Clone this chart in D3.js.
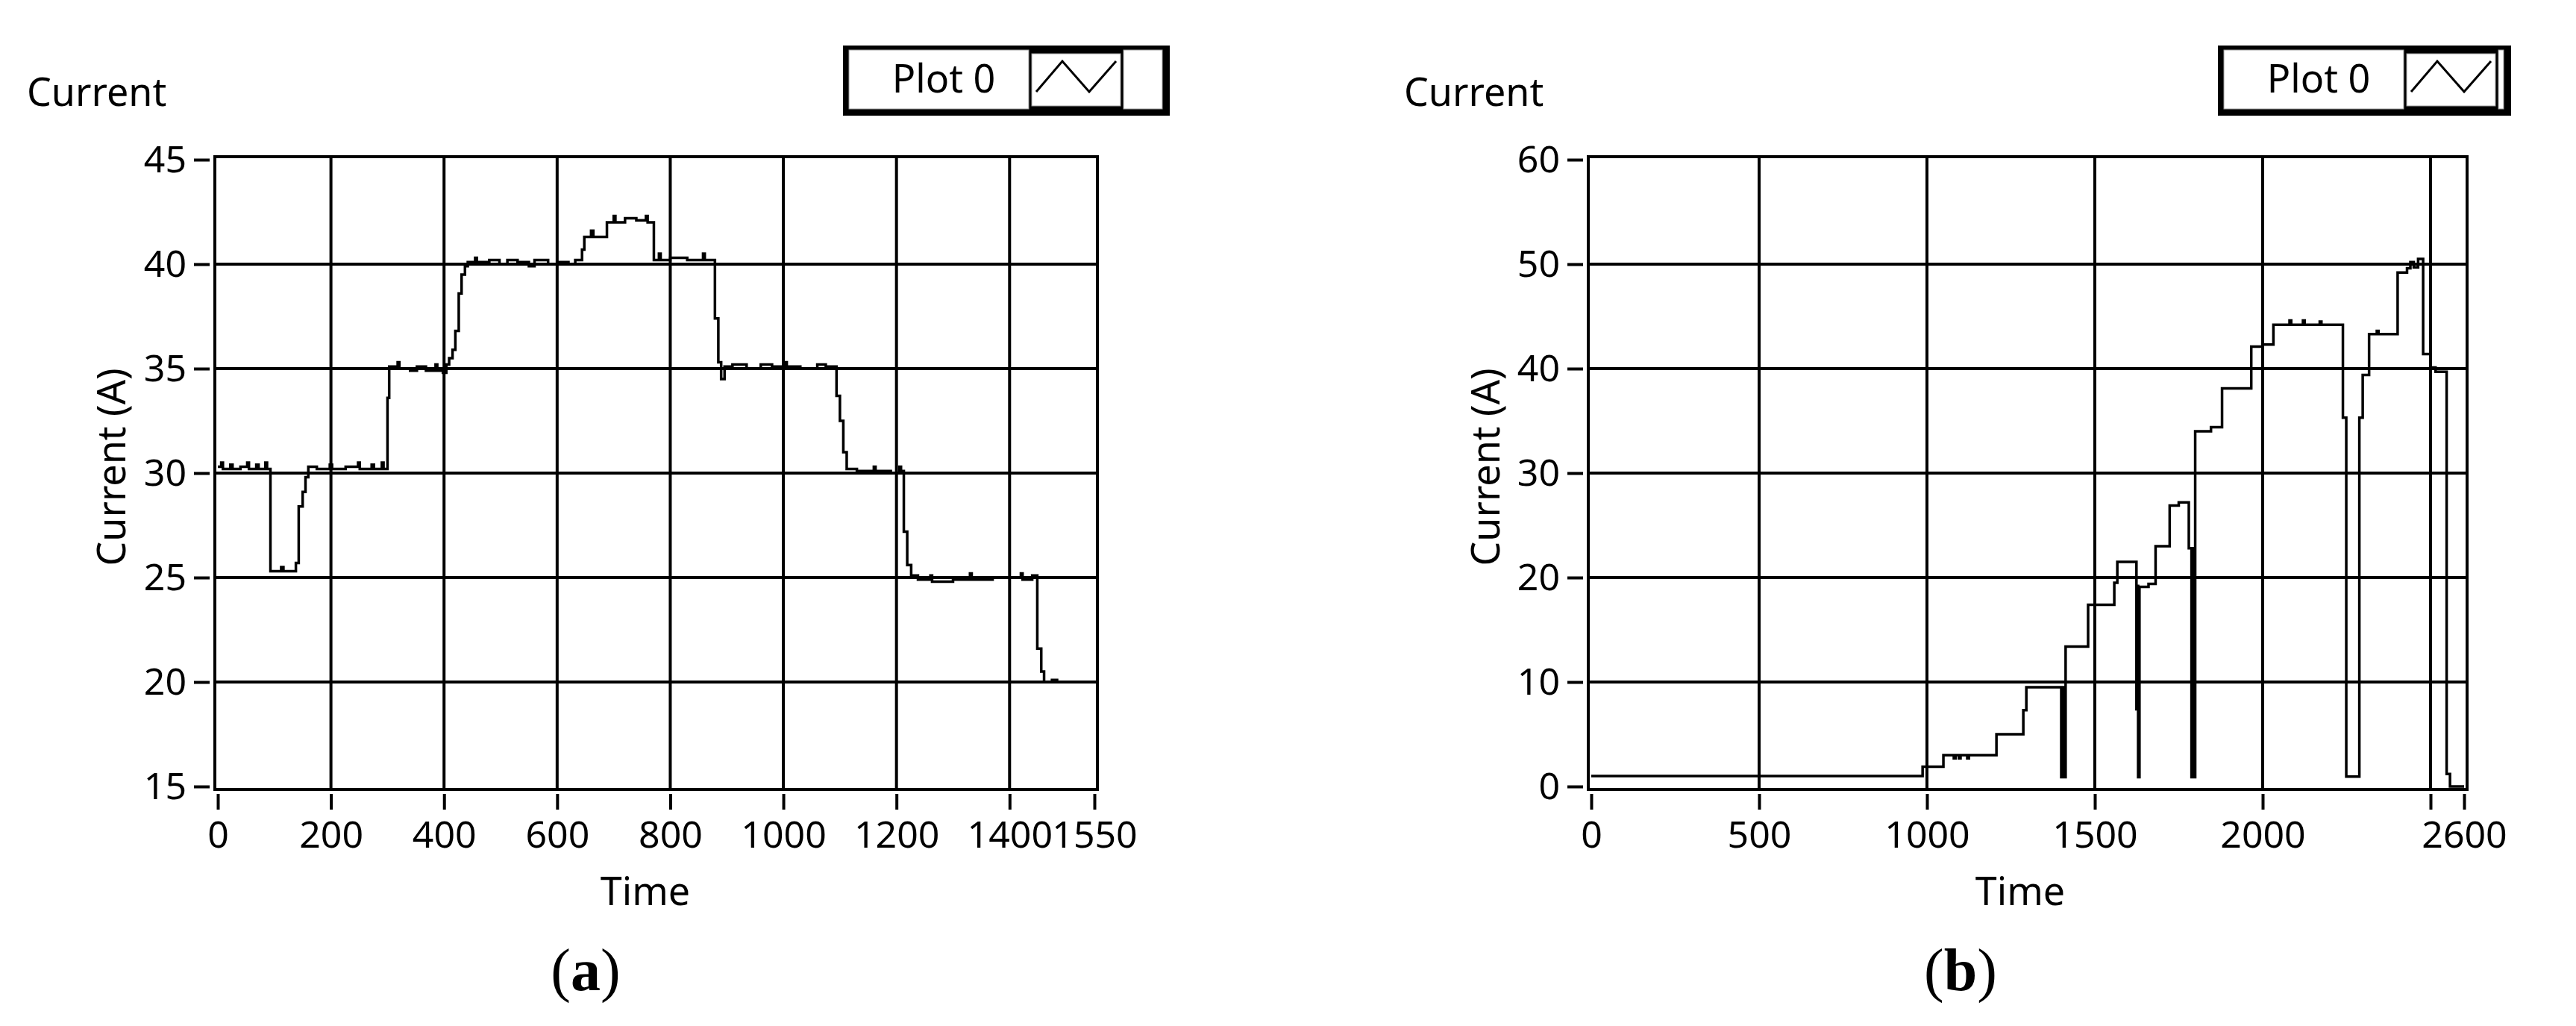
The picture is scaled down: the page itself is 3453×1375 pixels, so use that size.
<!DOCTYPE html>
<meta charset="utf-8">
<script src="https://d3js.org/d3.v7.min.js"></script>
<style>
  body { margin: 0; background: #fff; }
  svg { display: block; font-family: "Noto Sans", sans-serif; }
  .frame, .grid line { stroke: #000; stroke-width: 4; fill: none; }
  .axis path.domain { display: none; }
  .axis line { stroke: #000; stroke-width: 4; }
  .axis text { font-family: "Noto Sans", sans-serif; font-size: 50px; fill: #000; }
  .lbl { font-size: 52px; fill: #000; }
  .trace { fill: none; stroke: #000; stroke-width: 3.5; }
  .caption { font-family: "Liberation Serif", serif; font-size: 80px; fill: #000; }
</style>
<body></body>
<script>

// ---- data: panel (a)
var timeA = [0, 6, 9, 22, 26, 40, 52, 55, 68, 72, 84, 87, 93, 112, 116, 138, 143, 150, 155, 160,
  175, 198, 202, 226, 248, 251, 272, 276, 290, 293, 300, 303, 318, 321, 340, 352, 368, 385, 388, 398,
  404, 409, 415, 420, 426, 431, 437, 442, 455, 458, 480, 498, 512, 530, 550, 560, 584, 600, 620, 632,
  644, 648, 660, 664, 688, 700, 703, 720, 740, 757, 760, 771, 780, 783, 800, 830, 858, 861, 879, 885,
  890, 896, 910, 935, 960, 980, 1003, 1006, 1030, 1060, 1075, 1094, 1100, 1106, 1112, 1130, 1160, 1163, 1190, 1205,
  1208, 1213, 1219, 1226, 1238, 1260, 1263, 1300, 1330, 1333, 1370, 1420, 1423, 1440, 1449, 1456, 1461, 1475, 1484];
var currentA = [30.3, 30.5, 30.2, 30.4, 30.2, 30.3, 30.5, 30.2, 30.4, 30.2, 30.5, 30.2, 25.3, 25.5, 25.3, 25.7, 28.4, 29.1, 29.8, 30.3,
  30.2, 30.4, 30.2, 30.3, 30.5, 30.2, 30.4, 30.2, 30.5, 30.2, 33.6, 35.1, 35.3, 35.0, 34.9, 35.1, 34.9, 35.2, 34.9, 34.8,
  35.2, 35.5, 35.9, 36.8, 38.6, 39.5, 39.9, 40.1, 40.3, 40.1, 40.2, 40.0, 40.2, 40.1, 39.9, 40.2, 40.0, 40.1, 40.0, 40.2,
  40.7, 41.3, 41.6, 41.3, 42.0, 42.3, 42.0, 42.2, 42.1, 42.3, 42.0, 40.2, 40.5, 40.2, 40.3, 40.2, 40.5, 40.2, 37.4, 35.3,
  34.5, 35.1, 35.2, 35.0, 35.2, 35.1, 35.3, 35.1, 35.0, 35.2, 35.1, 33.7, 32.5, 31.0, 30.2, 30.1, 30.3, 30.1, 30.0, 30.3,
  30.1, 27.2, 25.6, 25.1, 24.9, 25.1, 24.8, 24.9, 25.2, 24.9, 25.0, 25.2, 24.9, 25.1, 21.6, 20.5, 20.0, 20.1, 20.0];
var xTicksA = [0, 200, 400, 600, 800, 1000, 1200, 1400, 1550];
var xTickLabelsA = ["0", "200", "400", "600", "800", "1000", "1200", "1400", "1550"];
var xGridA = [200, 400, 600, 800, 1000, 1200, 1400];
var yTicksA = [15, 20, 25, 30, 35, 40, 45];

// ---- data: panel (b)
var timeB = [0, 987, 1049, 1080, 1085, 1095, 1100, 1120, 1125, 1207, 1287, 1296, 1400, 1404, 1407, 1413, 1480, 1558, 1567, 1624,
  1627, 1629, 1633, 1660, 1681, 1723, 1750, 1780, 1788, 1791, 1794, 1799, 1846, 1879, 1966, 2000, 2032, 2080, 2085, 2120,
  2125, 2170, 2175, 2239, 2249, 2288, 2298, 2317, 2340, 2345, 2402, 2430, 2440, 2450, 2463, 2478, 2500, 2515, 2548, 2558, 2600];
var currentB = [1.0, 1.9, 3.0, 2.7, 3.0, 2.7, 3.0, 2.7, 3.0, 5.0, 7.3, 9.5, 0.9, 9.5, 0.9, 13.4, 17.4, 19.5, 21.5, 7.4,
  19.2, 0.9, 19.1, 19.4, 23.0, 26.9, 27.2, 22.8, 0.9, 22.8, 0.9, 34.0, 34.4, 38.1, 42.1, 42.3, 44.2, 44.6, 44.2, 44.6,
  44.2, 44.5, 44.2, 35.3, 0.95, 35.3, 39.4, 43.3, 43.6, 43.3, 49.2, 49.6, 50.2, 49.7, 50.5, 41.4, 40.1, 39.7, 1.2, 0.0, 0.0];
var xTicksB = [0, 500, 1000, 1500, 2000, 2500, 2600];
var xTickLabelsB = ["0", "500", "1000", "1500", "2000", "", "2600"];
var xGridB = [500, 1000, 1500, 2000, 2500];
var yTicksB = [0, 10, 20, 30, 40, 50, 60];

// ---- layout
var panels = [
  { time: timeA, current: currentA, xDomain: [0, 1550], yDomain: [15, 45],
    xRange: [292, 1467], xTicks: xTicksA, xLabels: xTickLabelsA, xGrid: xGridA, yTicks: yTicksA,
    titleX: 36, yTitleX: 168, timeX: 865, captionX: 785, caption: "a",
    legend: { x: 1130, w: 438 } },
  { time: timeB, current: currentB, xDomain: [0, 2600], yDomain: [0, 60],
    xRange: [2133, 3303], xTicks: xTicksB, xLabels: xTickLabelsB, xGrid: xGridB, yTicks: yTicksB,
    titleX: 1882, yTitleX: 2010, timeX: 2708, captionX: 2628, caption: "b",
    legend: { x: 2973, w: 393 } }
];
var yRange = [1054, 214];

var svg = d3.select("body").append("svg")
    .attr("width", 3453)
    .attr("height", 1375);

panels.forEach(function(p, i) {
  var x = d3.scaleLinear().domain(p.xDomain).range(p.xRange),
      y = d3.scaleLinear().domain(p.yDomain).range(yRange);
  var g = svg.append("g");
  var left = x(p.xDomain[0]) - 4, right = x(p.xDomain[1]) + 4,
      top = y(p.yDomain[1]) - 4, bottom = y(p.yDomain[0]) + 4;

  // grid
  var grid = g.append("g").attr("class", "grid");
  grid.selectAll(".v").data(p.xGrid).enter().append("line")
      .attr("x1", function(d) { return x(d); }).attr("x2", function(d) { return x(d); })
      .attr("y1", top).attr("y2", bottom);
  grid.selectAll(".h").data(p.yTicks.slice(1, -1)).enter().append("line")
      .attr("x1", left).attr("x2", right)
      .attr("y1", function(d) { return y(d); }).attr("y2", function(d) { return y(d); });

  // trace
  g.append("clipPath").attr("id", "clip" + i)
    .append("rect").attr("x", left).attr("y", top)
      .attr("width", right - left).attr("height", bottom - top);
  var pts = p.time.map(function(t, k) { return [t, p.current[k]]; });
  g.append("path")
      .attr("class", "trace")
      .attr("clip-path", "url(#clip" + i + ")")
      .attr("d", d3.line()
        .x(function(d) { return x(d[0]); })
        .y(function(d) { return y(d[1]); })
        .curve(d3.curveStepAfter)(pts));

  g.append("rect").attr("class", "frame")
      .attr("x", left).attr("y", top)
      .attr("width", right - left).attr("height", bottom - top);

  // axes
  g.append("g").attr("class", "axis")
      .attr("transform", "translate(" + (left - 7) + ",0)")
      .call(d3.axisLeft(y).tickValues(p.yTicks).tickSize(21).tickPadding(10));
  g.append("g").attr("class", "axis")
      .attr("transform", "translate(0," + (bottom + 6) + ")")
      .call(d3.axisBottom(x).tickValues(p.xTicks).tickSize(21).tickPadding(15)
        .tickFormat(function(d, k) { return p.xLabels[k]; }));

  // labels
  g.append("text").attr("class", "lbl")
      .attr("x", p.titleX).attr("y", 142)
      .text("Current");
  g.append("text").attr("class", "lbl")
      .attr("text-anchor", "middle")
      .attr("transform", "translate(" + p.yTitleX + "," + ((top + bottom) / 2 - 8) + ") rotate(-90)")
      .text("Current (A)");
  g.append("text").attr("class", "lbl")
      .attr("x", p.timeX).attr("y", 1213)
      .attr("text-anchor", "middle")
      .text("Time");
  var cap = g.append("text").attr("class", "caption")
      .attr("x", p.captionX).attr("y", 1327)
      .attr("text-anchor", "middle");
  cap.append("tspan").text("(");
  cap.append("tspan").attr("font-weight", "bold").text(p.caption);
  cap.append("tspan").text(")");

  // legend box
  var L = p.legend;
  var lg = g.append("g").attr("transform", "translate(" + L.x + ",61)");
  lg.append("rect").attr("width", L.w).attr("height", 94).attr("fill", "#000");
  lg.append("rect").attr("x", 8).attr("y", 6).attr("width", 241).attr("height", 79)
      .attr("fill", "#fff").attr("stroke", "#999").attr("stroke-width", 1);
  lg.append("rect").attr("x", 253).attr("y", 11).attr("width", 119).attr("height", 70)
      .attr("fill", "#fff").attr("stroke", "#999").attr("stroke-width", 1);
  lg.append("rect").attr("x", 376).attr("y", 6).attr("width", Math.max(0, L.w - 386)).attr("height", 79)
      .attr("fill", "#fff").attr("stroke", "#999").attr("stroke-width", 1);
  lg.append("text").attr("class", "lbl")
      .attr("x", 135).attr("y", 63)
      .attr("text-anchor", "middle")
      .text("Plot 0");
  lg.append("polyline")
      .attr("points", "259,62 294,21 330,62 366,21")
      .attr("fill", "none").attr("stroke", "#000").attr("stroke-width", 3);
});

</script>
